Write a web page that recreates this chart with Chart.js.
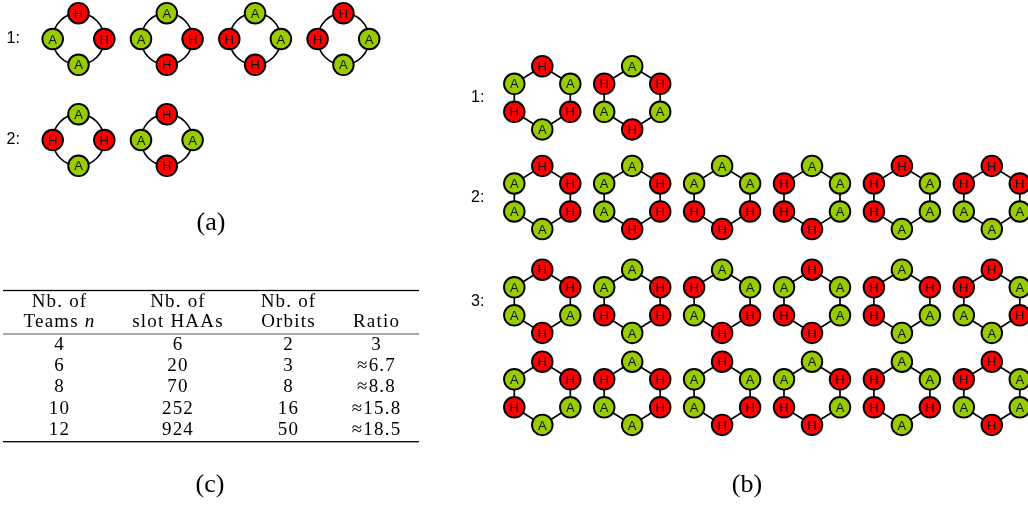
<!DOCTYPE html>
<html>
<head>
<meta charset="utf-8">
<script src="https://cdn.jsdelivr.net/npm/chart.js@4.4.1/dist/chart.umd.min.js"></script>
<style>
html, body { margin: 0; padding: 0; background: #fff; }
canvas { display: block; }
</style>
</head>
<body>
<canvas id="fig" width="1028" height="505"></canvas>
<script>
// (a) orbits of slot HAAs for n = 4, node order: top, right, bottom, left
var orbitsN4 = [
	['HHAA', 'AHHA', 'AAHH', 'HAAH'],
	['AHAH', 'HAHA']
];
// (b) orbits for n = 6, node order: top, upper right, lower right, bottom, lower left, upper left
var orbitsN6 = [
	[['HAHAHA', 'AHAHAH']],
	[['HHHAAA', 'AHHHAA', 'AAHHHA', 'AAAHHH', 'HAAAHH', 'HHAAAH']],
	[['HHAHAA', 'AHHAHA', 'AAHHAH', 'HAAHHA', 'AHAAHH', 'HAHAAH'],
	 ['HHAAHA', 'AHHAAH', 'HAHHAA', 'AHAHHA', 'AAHAHH', 'HAAHAH']]
];
var rowLabels = ['1:', '2:', '3:'];
var captions = ['(a)', '(b)', '(c)'];

// (c) table
var headerTop = ['Nb. of', 'Nb. of', 'Nb. of', ''];
var headerBottom = ['Teams', 'slot HAAs', 'Orbits', 'Ratio'];
var teams = [4, 6, 8, 10, 12];
var slotHAAs = [6, 20, 70, 252, 924];
var orbitCounts = [2, 3, 8, 16, 50];
var ratios = ['3', '≈6.7', '≈8.8', '≈15.8', '≈18.5'];

//<editor-fold desc="Layout">
var RED = '#ff0000';
var GREEN = '#99cc00';
var SANS = '"Liberation Sans", Arial, sans-serif';
var SERIF = '"Liberation Serif", "Times New Roman", serif';
var TFONT = '19px ' + SERIF;

var ringA = { x0: 78.5, dx: 88.3, rows: [39, 140], r: 25.8 };
var ringB = { x0: 542.3, dx: 89.9, rows: [[97.8], [197.5], [301.3, 393.3]] };
var offs4 = [[0, -1], [1, 0], [0, 1], [-1, 0]];
var offs6 = [[0, -31.6], [28, -14], [28, 14], [0, 31.6], [-28, 14], [-28, -14]];

var tableCols = [59.5, 178, 288.5, 376.5];
var tableHeadY = [306.7, 326.7];
var tableRowY = [350, 371.2, 392.4, 413.6, 434.8];
var tableRules = [[290.5, 1.3, '#000'], [334, 1, '#555'], [441.7, 1.3, '#000']];
//</editor-fold>

function cycleDataset(cx, cy, seq, offsets, kind) {
	var letters = seq.split('');
	return {
		kind: kind,
		data: letters.map(function (c, i) {
			return { x: cx + offsets[i][0], y: cy + offsets[i][1], t: c };
		}),
		pointBackgroundColor: letters.map(function (c) { return c === 'H' ? RED : GREEN; }),
		pointBorderColor: '#000',
		pointBorderWidth: 1.9,
		pointRadius: 10.3,
		showLine: false,
		clip: false
	};
}

var datasets = [];
orbitsN4.forEach(function (row, r) {
	row.forEach(function (seq, c) {
		var o = offs4.map(function (v) { return [v[0] * ringA.r, v[1] * ringA.r]; });
		datasets.push(cycleDataset(ringA.x0 + c * ringA.dx, ringA.rows[r], seq, o, 'ring'));
	});
});
orbitsN6.forEach(function (orbit, r) {
	orbit.forEach(function (line, l) {
		line.forEach(function (seq, c) {
			datasets.push(cycleDataset(ringB.x0 + c * ringB.dx, ringB.rows[r][l], seq, offs6, 'hex'));
		});
	});
});

var edgesPlugin = {
	id: 'edges',
	beforeDatasetsDraw: function (chart) {
		var ctx = chart.ctx;
		ctx.save();
		ctx.strokeStyle = '#000';
		ctx.lineWidth = 1.7;
		chart.data.datasets.forEach(function (ds, i) {
			var pts = chart.getDatasetMeta(i).data;
			ctx.beginPath();
			if (ds.kind === 'ring') {
				var cx = 0, cy = 0;
				pts.forEach(function (p) { cx += p.x / pts.length; cy += p.y / pts.length; });
				var r = Math.hypot(pts[0].x - cx, pts[0].y - cy);
				ctx.arc(cx, cy, r, 0, Math.PI * 2);
			} else {
				pts.forEach(function (p, k) { k ? ctx.lineTo(p.x, p.y) : ctx.moveTo(p.x, p.y); });
				ctx.closePath();
			}
			ctx.stroke();
		});
		ctx.restore();
	},
	afterDatasetsDraw: function (chart) {
		var ctx = chart.ctx;
		ctx.save();
		ctx.font = '13px ' + SANS;
		ctx.fillStyle = '#111';
		ctx.textAlign = 'center';
		ctx.textBaseline = 'alphabetic';
		chart.data.datasets.forEach(function (ds, i) {
			chart.getDatasetMeta(i).data.forEach(function (p, k) {
				ctx.fillText(ds.data[k].t, p.x, p.y + 4.6);
			});
		});
		ctx.restore();
	}
};

var textPlugin = {
	id: 'texts',
	afterDraw: function (chart) {
		var ctx = chart.ctx;
		var sx = chart.scales.x, sy = chart.scales.y;
		ctx.save();
		ctx.fillStyle = '#000';
		ctx.textBaseline = 'middle';
		// row labels
		ctx.font = '16px ' + SANS;
		ctx.textAlign = 'left';
		ringA.rows.forEach(function (y, r) { ctx.fillText(rowLabels[r], sx.getPixelForValue(6.5), sy.getPixelForValue(y)); });
		ringB.rows.forEach(function (ys, r) { ctx.fillText(rowLabels[r], sx.getPixelForValue(471), sy.getPixelForValue(ys[0])); });
		// captions
		ctx.font = '26px ' + SERIF;
		ctx.textAlign = 'center';
		ctx.fillText(captions[0], sx.getPixelForValue(211), sy.getPixelForValue(223));
		ctx.fillText(captions[1], sx.getPixelForValue(747), sy.getPixelForValue(485));
		ctx.fillText(captions[2], sx.getPixelForValue(210), sy.getPixelForValue(485));
		// table
		ctx.textBaseline = 'alphabetic';
		ctx.letterSpacing = '1.2px';
		ctx.font = TFONT;
		tableCols.forEach(function (x, c) {
			var px = sx.getPixelForValue(x);
			ctx.fillText(headerTop[c], px, sy.getPixelForValue(tableHeadY[0]));
			if (c === 0) {
				var w1 = ctx.measureText(headerBottom[0] + ' ').width;
				ctx.font = 'italic ' + TFONT;
				var w2 = ctx.measureText('n').width;
				ctx.font = TFONT;
				ctx.textAlign = 'left';
				ctx.fillText(headerBottom[0] + ' ', px - (w1 + w2) / 2, sy.getPixelForValue(tableHeadY[1]));
				ctx.font = 'italic ' + TFONT;
				ctx.fillText('n', px - (w1 + w2) / 2 + w1, sy.getPixelForValue(tableHeadY[1]));
				ctx.font = TFONT;
				ctx.textAlign = 'center';
			} else {
				ctx.fillText(headerBottom[c], px, sy.getPixelForValue(tableHeadY[1]));
			}
		});
		var cols = [teams, slotHAAs, orbitCounts, ratios];
		tableRowY.forEach(function (y, r) {
			cols.forEach(function (col, c) {
				ctx.fillText(String(col[r]), sx.getPixelForValue(tableCols[c]), sy.getPixelForValue(y));
			});
		});
		tableRules.forEach(function (rule) {
			ctx.fillStyle = rule[2];
			ctx.fillRect(sx.getPixelForValue(3), sy.getPixelForValue(rule[0]) - rule[1] / 2,
				sx.getPixelForValue(419) - sx.getPixelForValue(3), rule[1]);
		});
		ctx.restore();
	}
};

new Chart(document.getElementById('fig').getContext('2d'), {
	type: 'scatter',
	data: { datasets: datasets },
	options: {
		responsive: false,
		animation: false,
		events: [],
		layout: { autoPadding: false, padding: 0 },
		plugins: { legend: { display: false }, tooltip: { enabled: false } },
		scales: {
			x: { type: 'linear', min: 0, max: 1028, display: false },
			y: { type: 'linear', min: 0, max: 505, reverse: true, display: false }
		}
	},
	plugins: [edgesPlugin, textPlugin]
});
</script>
</body>
</html>
